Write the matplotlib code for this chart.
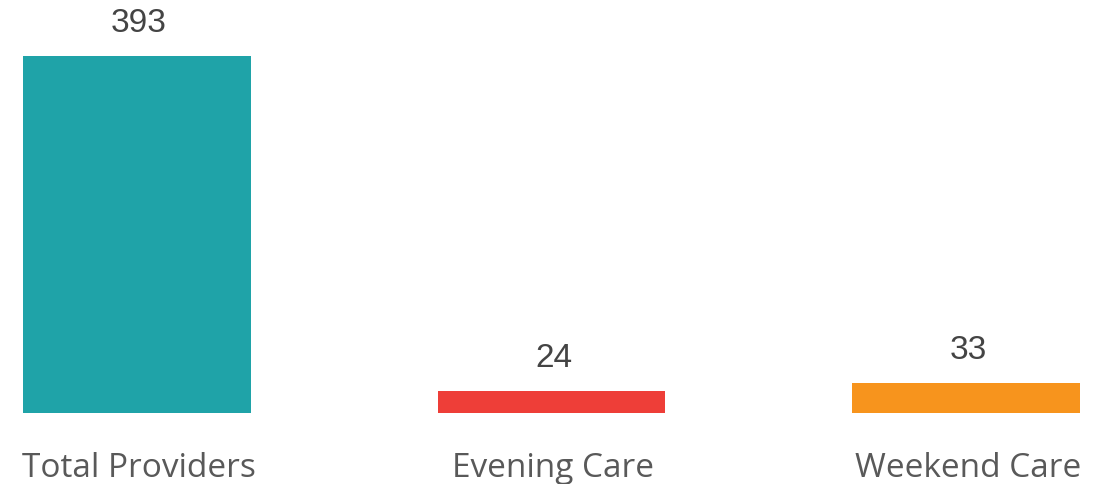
import matplotlib
matplotlib.use("Agg")
from matplotlib import pyplot as plt

categories = ["Total Providers", "Evening Care", "Weekend Care"]
values = [393, 24, 33]
colors = ["#1FA3A8", "#EE3E38", "#F7941D"]

fig = plt.figure(figsize=(11.12, 4.84), dpi=100)
# axes spans the whole width, baseline at 71 px from bottom
ax = fig.add_axes([0, 71 / 484, 1, 413 / 484])

x = list(range(len(categories)))
ax.bar(x, values, width=0.55, color=colors)

ax.set_xlim(-137 / 414.5, (1112 - 137) / 414.5)
ax.set_ylim(0, 413 / 0.908)

for xi, v in zip(x, values):
    ax.annotate(str(v), (xi, v), xytext=(2, 24), textcoords="offset pixels",
                ha="center", va="baseline", fontsize=24,
                family="Liberation Sans", color="#444444")

for xi, name in zip(x, categories):
    ax.annotate(name, (xi, 0), xytext=(2, -64), textcoords="offset pixels",
                ha="center", va="baseline", fontsize=24,
                family="Open Sans", color="#595959")

ax.axis("off")
fig.savefig("out.png", dpi=100)
